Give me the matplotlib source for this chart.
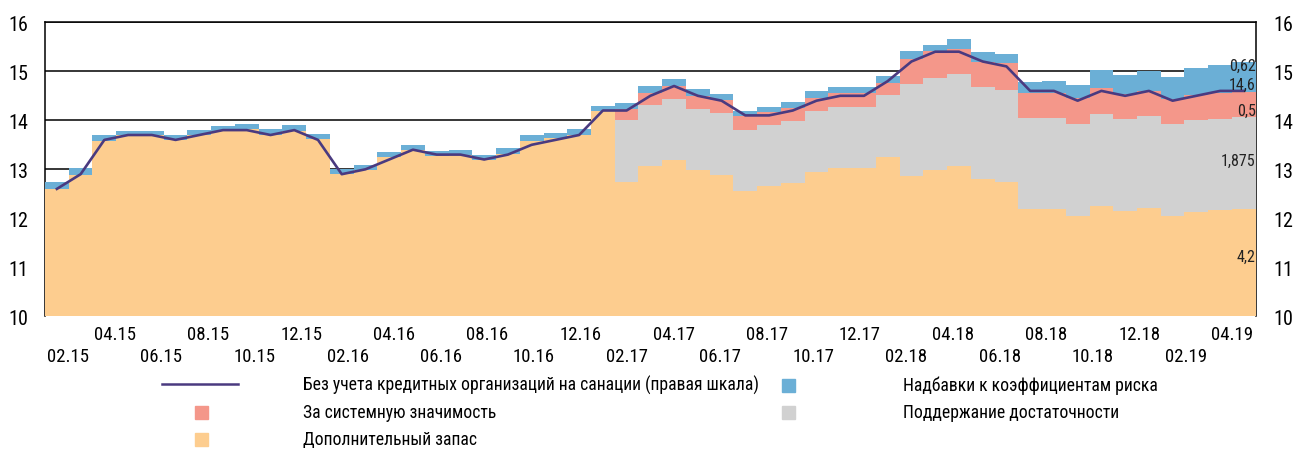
import numpy as np
import matplotlib
matplotlib.use("Agg")
import matplotlib.pyplot as plt
from matplotlib import font_manager as fm
from matplotlib.lines import Line2D
from matplotlib.patches import Rectangle

# pick a narrow font with Cyrillic
def pick_font():
    cands = [('Roboto Condensed', 'normal'), ('PT Sans Narrow', 'normal'), ('Liberation Sans Narrow', 'normal'),
             ('Fira Sans Condensed', 'normal'), ('IBM Plex Sans Condensed', 'normal'),
             ('Open Sans', 'condensed'), ('Noto Sans', 'condensed')]
    for name, stretch in cands:
        for f in fm.fontManager.ttflist:
            if f.name != name or f.style != 'normal':
                continue
            if stretch == 'condensed' and f.stretch not in ('condensed', 'semi-condensed', 'extra-condensed'):
                continue
            try:
                if ord('Б') in fm.get_font(f.fname).get_charmap():
                    return name, stretch
            except Exception:
                pass
    return 'DejaVu Sans', 'normal'

font_name, font_stretch = pick_font()
plt.rcParams['font.family'] = [font_name, 'DejaVu Sans']
plt.rcParams['font.stretch'] = font_stretch

# months 02.15 ... 04.19
months = ['02.15', '03.15', '04.15', '05.15', '06.15', '07.15', '08.15', '09.15', '10.15', '11.15', '12.15',
          '01.16', '02.16', '03.16', '04.16', '05.16', '06.16', '07.16', '08.16', '09.16', '10.16', '11.16', '12.16',
          '01.17', '02.17', '03.17', '04.17', '05.17', '06.17', '07.17', '08.17', '09.17', '10.17', '11.17', '12.17',
          '01.18', '02.18', '03.18', '04.18', '05.18', '06.18', '07.18', '08.18', '09.18', '10.18', '11.18', '12.18',
          '01.19', '02.19', '03.19', '04.19']

# components, p.p. (stacked on top of the 8% minimum)
extra_reserve = [4.60, 4.89, 5.57, 5.69, 5.69, 5.59, 5.69, 5.79, 5.82, 5.71, 5.79,
                 5.61, 4.90, 4.98, 5.26, 5.39, 5.28, 5.30, 5.18, 5.32, 5.57, 5.63, 5.71,
                 6.18, 4.75, 5.06, 5.18, 4.99, 4.89, 4.56, 4.65, 4.73, 4.94, 5.03, 5.03,
                 5.26, 4.86, 4.99, 5.06, 4.81, 4.75, 4.18, 4.18, 4.04, 4.25, 4.15, 4.21,
                 4.05, 4.13, 4.16, 4.20]
conservation = [0] * 24 + [1.25] * 12 + [1.875] * 15
systemic = [0] * 24 + [0.24, 0.24, 0.28, 0.26, 0.27, 0.27, 0.27, 0.27, 0.27, 0.27, 0.27,
                       0.26, 0.51, 0.55, 0.52, 0.51, 0.54, 0.51, 0.51, 0.54, 0.53, 0.51, 0.51,
                       0.50, 0.52, 0.52, 0.50]
risk_addons = [0.15, 0.14, 0.14, 0.10, 0.10, 0.10, 0.11, 0.10, 0.11, 0.12, 0.12,
               0.12, 0.10, 0.10, 0.10, 0.10, 0.10, 0.10, 0.12, 0.12, 0.12, 0.12, 0.12,
               0.12, 0.12, 0.14, 0.13, 0.13, 0.12, 0.11, 0.11, 0.12, 0.13, 0.13, 0.13,
               0.14, 0.17, 0.13, 0.20, 0.20, 0.19, 0.22, 0.24, 0.27, 0.37, 0.38, 0.41,
               0.46, 0.55, 0.58, 0.62]
no_sanation = [12.6, 12.9, 13.6, 13.7, 13.7, 13.6, 13.7, 13.8, 13.8, 13.7, 13.8,
               13.6, 12.9, 13.0, 13.2, 13.4, 13.3, 13.3, 13.2, 13.3, 13.5, 13.6, 13.7,
               14.2, 14.2, 14.5, 14.7, 14.5, 14.4, 14.1, 14.1, 14.2, 14.4, 14.5, 14.5,
               14.8, 15.2, 15.4, 15.4, 15.2, 15.1, 14.6, 14.6, 14.4, 14.6, 14.5, 14.6,
               14.4, 14.5, 14.6, 14.6]
base_level = 8.0
end_labels = ['0,62', '14,6', '0,5', '1,875', '4,2']

c_orange = '#FDCD8F'
c_grey = '#D1D1D1'
c_red = '#F4978A'
c_blue = '#6BAFD6'
c_line = '#4A3A80'

W, H = 1293, 452
fig = plt.figure(figsize=(W / 100, H / 100), dpi=100)
ax = fig.add_axes([45 / W, 1 - 317.3 / H, (1255.7 - 45) / W, (317.3 - 23.3) / H])

x = np.arange(len(months))
b = np.full(len(months), base_level)
for vals, col in [(extra_reserve, c_orange), (conservation, c_grey),
                  (systemic, c_red), (risk_addons, c_blue)]:
    v = np.array(vals, dtype=float)
    ax.bar(x, v, bottom=b, width=1.0, color=col, linewidth=0, zorder=2)
    b = b + v

ax.set_xlim(-0.5, len(months) - 0.5)
ax.set_ylim(10, 16)
ax.set_yticks(range(10, 17))
ax.yaxis.grid(True, color='black', linewidth=1.1)
ax.set_axisbelow(True)
for s in ['left', 'right', 'top']:
    ax.spines[s].set_color('black')
    ax.spines[s].set_linewidth(1.1)
    ax.spines[s].set_zorder(0.5)
ax.spines['bottom'].set_visible(False)
ax.tick_params(axis='y', length=0, pad=12, labelsize=14.5)

# date labels sit on a slightly different grid than the bars
n = len(months)
pos = [(i + 1) * n / (n + 1) - 0.5 for i in range(n)]
up = [i for i in range(n) if i % 4 == 2]
low = [i for i in range(n) if i % 4 == 0]
ax.set_xticks([pos[i] for i in up])
ax.set_xticklabels([months[i] for i in up])
ax.set_xticks([pos[i] for i in low], minor=True)
ax.set_xticklabels([months[i] for i in low], minor=True)
ax.tick_params(axis='x', which='major', length=0, pad=6, labelsize=13.5)
ax.tick_params(axis='x', which='minor', length=0, pad=22, labelsize=13.5)

ax2 = ax.twinx()
ax2.set_ylim(10, 16)
ax2.set_yticks(range(10, 17))
ax2.tick_params(axis='y', length=0, pad=13, labelsize=14.5)
for s in ax2.spines.values():
    s.set_visible(False)
ax2.plot(x, no_sanation, color=c_line, linewidth=1.9, zorder=3)

# values for the last month
for txt, yv in zip(end_labels, [15.12, 14.74, 14.2, 13.18, 11.23]):
    ax2.text(n - 0.5, yv, txt, ha='right', va='center', fontsize=11.5, color='#222222')

# legend, laid out by hand
def fx(px):
    return px / W

def fy(py):
    return 1 - py / H

fig.add_artist(Line2D([fx(162), fx(238)], [fy(385), fy(385)], color=c_line, linewidth=1.8))
sq = 13
for (px, py, col) in [(195, 413, c_red), (195, 440, c_orange), (782, 386, c_blue), (782, 413, c_grey)]:
    fig.add_artist(Rectangle((fx(px), fy(py + sq / 2)), sq / W, sq / H, color=col, transform=fig.transFigure))
legend_texts = [(303, 385, 'Без учета кредитных организаций на санации (правая шкала)'),
                (303, 413, 'За системную значимость'),
                (303, 440, 'Дополнительный запас'),
                (903, 386, 'Надбавки к коэффициентам риска'),
                (903, 413, 'Поддержание достаточности')]
for px, py, t in legend_texts:
    fig.text(fx(px), fy(py), t, ha='left', va='center', fontsize=12.7)

fig.savefig('out.png', dpi=100)
